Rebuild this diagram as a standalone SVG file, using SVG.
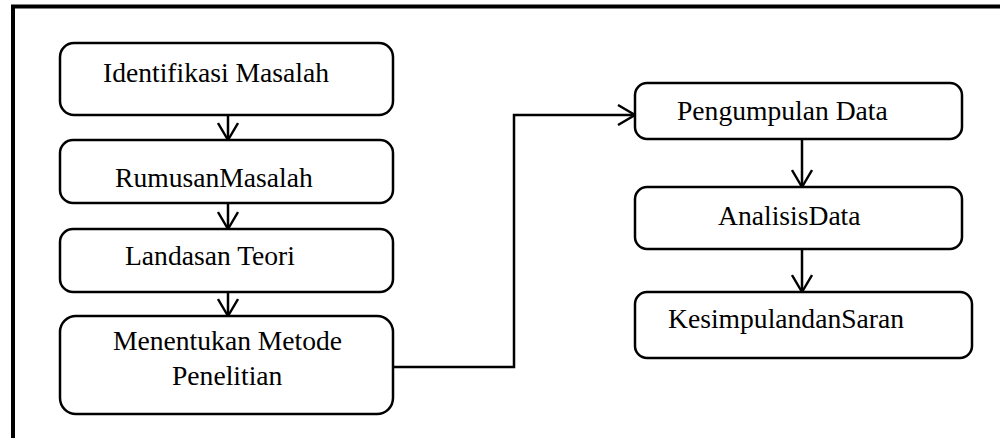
<svg xmlns="http://www.w3.org/2000/svg" width="1000" height="438" viewBox="0 0 1000 438">
<defs>
<marker id="arr" viewBox="0 0 20 22" refX="18" refY="11" markerWidth="20" markerHeight="22" markerUnits="userSpaceOnUse" orient="auto">
<path d="M1,1 L18,11 L1,21" fill="none" stroke="#000" stroke-width="2.4"/>
</marker>
<style>
.box{fill:#fff;stroke:#000;stroke-width:2.5}
.t{font-family:"Liberation Serif","Times New Roman",serif;font-size:27.6px;fill:#000}
.c{fill:none;stroke:#000;stroke-width:2.5}
</style>
</defs>
<rect x="0" y="0" width="1000" height="438" fill="#fff"/>
<path d="M13,460 L13,6.5 L1010,6.5" fill="none" stroke="#000" stroke-width="4"/>
<g id="connectors">
<line class="c" x1="228" y1="115" x2="228" y2="140" marker-end="url(#arr)"/>
<line class="c" x1="228" y1="203" x2="228" y2="229" marker-end="url(#arr)"/>
<line class="c" x1="228" y1="292" x2="228" y2="316" marker-end="url(#arr)"/>
<polyline class="c" points="393,367 514,367 514,115 635,115" marker-end="url(#arr)"/>
<line class="c" x1="802" y1="139" x2="802" y2="187" marker-end="url(#arr)"/>
<line class="c" x1="802" y1="249" x2="802" y2="292" marker-end="url(#arr)"/>
</g>
<g id="n1"><rect class="box" x="60" y="43" width="333" height="72" rx="14"/><text class="t" x="103" y="82">Identifikasi Masalah</text></g>
<g id="n2"><rect class="box" x="60" y="140" width="333" height="63" rx="13"/><text class="t" x="115" y="187">RumusanMasalah</text></g>
<g id="n3"><rect class="box" x="60" y="229" width="333" height="63" rx="13"/><text class="t" x="125" y="265">Landasan Teori</text></g>
<g id="n4"><rect class="box" x="60" y="316" width="333" height="98" rx="16"/><text class="t" x="113" y="350">Menentukan Metode</text><text class="t" x="172" y="385">Penelitian</text></g>
<g id="n5"><rect class="box" x="635" y="83" width="327" height="56" rx="12"/><text class="t" x="677" y="120">Pengumpulan Data</text></g>
<g id="n6"><rect class="box" x="635" y="187" width="327" height="62" rx="12"/><text class="t" x="718" y="225">AnalisisData</text></g>
<g id="n7"><rect class="box" x="635" y="292" width="337" height="66" rx="12"/><text class="t" x="668" y="328">KesimpulandanSaran</text></g>
</svg>
